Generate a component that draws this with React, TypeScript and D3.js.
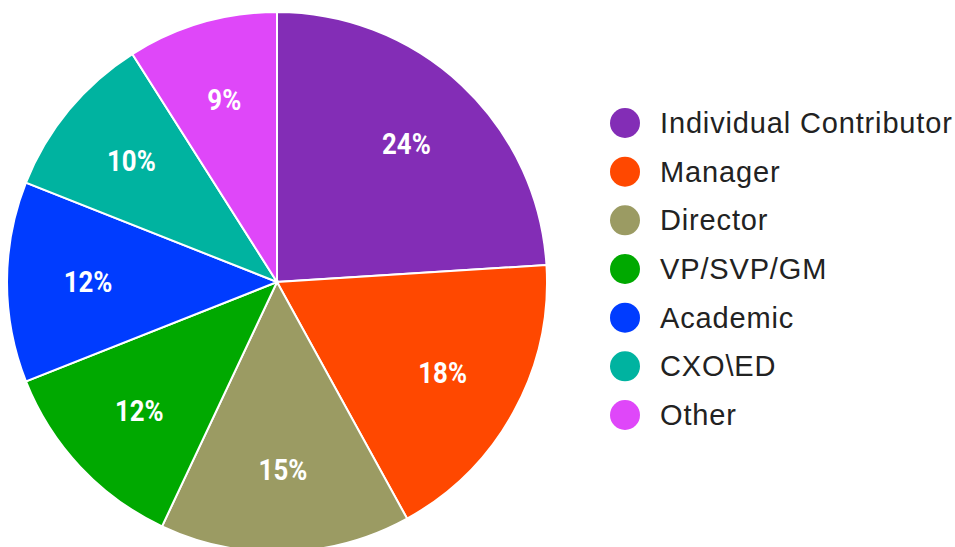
import React from "react";
import * as d3 from "d3";

const categories = ["Individual Contributor", "Manager", "Director", "VP/SVP/GM", "Academic", "CXO\\ED", "Other"];
const values = [24, 18, 15, 12, 12, 10, 9];
const colors = ["#832db6", "#ff4800", "#9b9b63", "#00a900", "#003cff", "#00b3a0", "#df47f9"];

const W = 955;
const H = 547;
const cx = 277;
const cy = 282;
const R = 270;

export default function App() {
  const pie = d3.pie<number>().sort(null).value((d) => d)(values);
  const arc = d3.arc<d3.PieArcDatum<number>>().innerRadius(0).outerRadius(R);
  const labelArc = d3.arc<d3.PieArcDatum<number>>().innerRadius(R * 0.7).outerRadius(R * 0.7);
  const total = d3.sum(values);
  const fmt = d3.format(".0%");
  const legendY = d3.scalePoint<string>().domain(categories).range([123, 415]);

  return (
    <svg width={W} height={H} style={{ position: "absolute", left: 0, top: 0, background: "#fff" }}>
      <g transform={`translate(${cx},${cy})`}>
        {pie.map((p, i) => (
          <path key={i} d={arc(p) || ""} fill={colors[i]} stroke="#fff" strokeWidth={2} />
        ))}
        {pie.map((p, i) => {
          const [x, y] = labelArc.centroid(p);
          return (
            <text
              key={"l" + i}
              transform={`translate(${x},${y}) scale(0.89,1)`}
              textAnchor="middle"
              dominantBaseline="central"
              fill="#fff"
              fontFamily="Roboto, 'Liberation Sans', sans-serif"
              fontWeight={700}
              fontSize={29}
            >
              {fmt(p.data / total)}
            </text>
          );
        })}
      </g>
      <g>
        {categories.map((c, i) => (
          <g key={c} transform={`translate(0,${legendY(c)})`}>
            <circle cx={625} cy={0} r={15} fill={colors[i]} />
            <text
              x={660}
              y={0}
              dominantBaseline="central"
              fill="#222"
              fontFamily="'Liberation Sans', Arial, sans-serif"
              fontSize={29}
              letterSpacing={0.85}
            >
              {c}
            </text>
          </g>
        ))}
      </g>
    </svg>
  );
}
